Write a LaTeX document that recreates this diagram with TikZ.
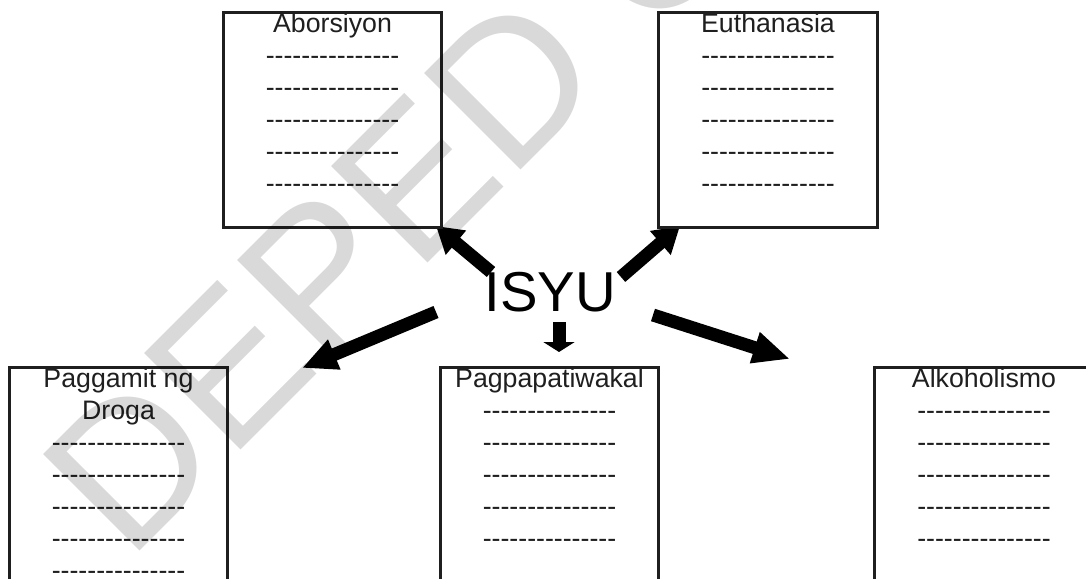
\documentclass[tikz,border=0pt]{standalone}
\usepackage{fontspec}
\setmainfont{Liberation Sans}
\usetikzlibrary{arrows.meta}
\newcommand{\blank}{\foreach \k in {1,...,15}{-}}

\begin{document}
\begin{tikzpicture}[x=0.025cm,y=-0.025cm]
        % Styles
        \tikzstyle{box}=[draw=black!88,fill=white,line width=0.075cm,minimum width=5.45cm,anchor=north,inner sep=0pt]
        \tikzstyle{heading}=[anchor=base,inner sep=0pt,font=\fontsize{19}{23}\selectfont,text=black!88]
        \tikzstyle{big arrow}=[line width=0.325cm,-{Triangle[length=0.65cm,width=0.75cm]}]
        \tikzstyle{stamp}=[anchor=base west,inner sep=0pt,rotate=45,text=black!15,font=\fontsize{141}{141}\selectfont]
        %The graphic
        \useasboundingbox (0,0) rectangle (1086,579);
        \clip (0,0) rectangle (1086,579);
        %arrows
        \node[anchor=base,inner sep=0pt,font=\fontsize{40}{40}\selectfont] (isyu) at (550,311) {ISYU};
        \coordinate (from abor) at (491,272);
        \coordinate (from euth) at (621,277);
        \coordinate (to euth) at (680,226);
        \coordinate (from drug) at (436,312);
        \coordinate (to drug) at (302,368);
        \coordinate (from suic) at (559,322);
        \coordinate (to suic) at (559,352);
        \coordinate (from alco) at (653,315);
        \coordinate (to alco) at (790,359);
        \draw[big arrow] (from abor) -- (436,226);
        \draw[big arrow] (from euth) -- (to euth);
        \draw[big arrow,-{Triangle[length=0.875cm,width=0.75cm]}] (from drug) -- (to drug);
        \draw[big arrow,-{Triangle[length=0.25cm,width=0.775cm]}] (from suic) -- (to suic);
        \draw[big arrow,-{Triangle[length=0.925cm,width=0.75cm]}] (from alco) -- (to alco);
        %boxes
        \node[box,minimum height=5.375cm] (abor) at (332.5,11) {};
        \node[box,minimum height=5.375cm] (euth) at (768,11) {};
        \node[box,minimum height=7.5cm] (drug) at (118.5,366) {};
        \node[box,minimum height=7.5cm] (suic) at (549.5,366) {};
        \node[box,minimum height=7.5cm] (alco) at (984,366) {};
        %texts
        \node[heading] (abor title) at (332.5,32) {Aborsiyon};
        \node[heading] (euth title) at (768,32) {Euthanasia};
        \node[heading] (drug title) at (118.5,387.5) {Paggamit ng};
        \node[heading] (drug title2) at (118.5,419.5) {Droga};
        \node[heading] (suic title) at (549.5,387.5) {Pagpapatiwakal};
        \node[heading] (alco title) at (984,387.5) {Alkoholismo};
        \foreach \i in {1,...,5}
        {
            \node[heading] (abor-\i) at (332.5,{32+32*\i}) {\blank};
            \node[heading] (euth-\i) at (768,{32+32*\i}) {\blank};
            \node[heading] (drug-\i) at (118.5,{419.5+32*\i}) {\blank};
            \node[heading] (suic-\i) at (549.5,{387.5+32*\i}) {\blank};
            \node[heading] (alco-\i) at (984,{387.5+32*\i}) {\blank};
        }
        %watermark
        \begin{scope}[blend mode=multiply]
            \node[stamp] (stamp) at (128,563) {DEPED C};
        \end{scope}
\end{tikzpicture}
\end{document}
